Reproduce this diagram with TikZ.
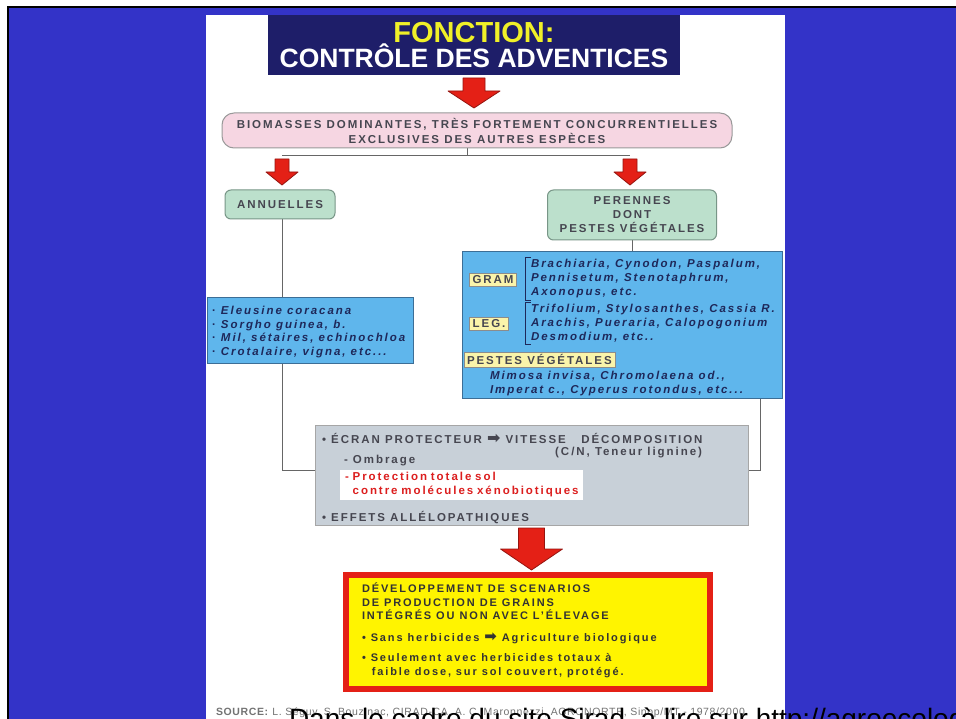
\documentclass[tikz,border=0pt]{standalone}
\usepackage{fontspec}
\setmainfont{Liberation Sans}
\newfontfamily\boxfont[LetterSpace=17]{Liberation Sans}
\newfontfamily\srcfont[LetterSpace=6]{Liberation Sans}
\newfontfamily\symfont{DejaVu Sans}
\usetikzlibrary{calc,positioning,backgrounds}

\definecolor{bgblue}{RGB}{51,51,200}
\definecolor{navy}{RGB}{30,30,105}
\definecolor{titleyellow}{RGB}{240,240,40}
\definecolor{pinkfill}{RGB}{246,214,226}
\definecolor{greenfill}{RGB}{188,224,204}
\definecolor{greenline}{RGB}{120,150,135}
\definecolor{bluefill}{RGB}{95,182,236}
\definecolor{blueline}{RGB}{60,110,150}
\definecolor{grayfill}{RGB}{200,208,216}
\definecolor{tagfill}{RGB}{250,244,170}
\definecolor{arrowred}{RGB}{228,32,22}
\definecolor{arrowdark}{RGB}{150,20,15}
\definecolor{yieldyellow}{RGB}{255,244,0}
\definecolor{inkgray}{RGB}{70,70,80}
\definecolor{navyink}{RGB}{30,40,90}
\definecolor{protred}{RGB}{220,30,30}

\begin{document}
\begin{tikzpicture}[x=1pt,y=-1pt,
  every node/.style={inner sep=0pt,outer sep=0pt},
  txt/.style={font=\boxfont\bfseries\fontsize{11.5}{14}\selectfont,text=inkgray,align=left},
  link/.style={draw=black!60,line width=1pt},
  bracket/.style={draw=navyink,line width=0.7pt},
  pinkbox/.style={draw=black!40,fill=pinkfill,line width=1pt,rounded corners=12pt},
  greenbox/.style={draw=greenline,fill=greenfill,line width=1pt,rounded corners=6pt},
  bluebox/.style={draw=blueline,fill=bluefill,line width=1pt},
  tag/.style={draw=black!45,fill=tagfill,inner xsep=3pt,inner ysep=2.5pt},
  redarrow/.style={fill=arrowred,draw=arrowdark,line width=0.8pt,line join=round}]

\useasboundingbox (0,0) rectangle (956,719);
\clip (0,0) rectangle (956,719);

% title
\node[fill=navy,minimum width=412pt,minimum height=60pt,text=white,align=center,
  font=\fontsize{26.5}{24}\bfseries\selectfont] (title) at (474,45)
  {\textcolor{titleyellow}{\fontsize{29}{24}\selectfont FONCTION:}\\CONTRÔLE DES ADVENTICES};

% boxes
\node[pinkbox,txt,align=center,minimum width=510pt,minimum height=35pt,
  font=\boxfont\bfseries\fontsize{11.5}{15}\selectfont] (biom) at (477,130.5)
  {BIOMASSES DOMINANTES, TRÈS FORTEMENT CONCURRENTIELLES\\EXCLUSIVES DES AUTRES ESPÈCES};
\node[greenbox,txt,minimum width=110pt,minimum height=29pt] (annu) at (280,204.5) {ANNUELLES};
\node[greenbox,txt,align=center,minimum width=169pt,minimum height=50pt] (peren) at (632,215)
  {PERENNES\\DONT\\PESTES VÉGÉTALES};

% annual species
\node[bluebox,minimum width=206pt,minimum height=65pt] (annusp) at (310,330.5) {};
\node[txt,anchor=west,text=navyink,font=\boxfont\bfseries\fontsize{11.5}{13.5}\selectfont] (annulist) at (212,332)
  {· \textit{Eleusine coracana}\\· \textit{Sorgho guinea, b.}\\· \textit{Mil, sétaires, echinochloa}\\· \textit{Crotalaire, vigna, etc...}};

% perennial species
\node[bluebox,minimum width=320pt,minimum height=146pt] (perensp) at (622,325) {};
\node[tag,txt] (gram) at (493,280) {GRAM};
\node[txt,anchor=west,text=navyink] (gramlist) at (531,279)
  {\textit{Brachiaria, Cynodon, Paspalum,}\\\textit{Pennisetum, Stenotaphrum,}\\\textit{Axonopus, etc.}};
\node[tag,txt] (leg) at (489,324) {LEG.};
\node[txt,anchor=west,text=navyink] (leglist) at (531,323)
  {\textit{Trifolium, Stylosanthes, Cassia R.}\\\textit{Arachis, Pueraria, Calopogonium}\\\textit{Desmodium, etc..}};
\foreach \n in {gramlist,leglist}
  \draw[bracket] ([shift={(0,-2)}]\n.north west) -- ([shift={(-6,-2)}]\n.north west)
    -- ([shift={(-6,2)}]\n.south west) -- ([shift={(0,2)}]\n.south west);
\node[tag,txt,anchor=west] (pestes) at (464,359.5) {PESTES VÉGÉTALES};
\node[txt,anchor=west,text=navyink] (pesteslist) at (490,384)
  {\textit{Mimosa invisa, Chromolaena od.,}\\\textit{Imperat c., Cyperus rotondus, etc...}};

% protective cover
\node[fill=grayfill,draw=black!35,line width=1pt,minimum width=433pt,minimum height=100pt] (cover) at (531.5,475) {};
\node[txt,anchor=west] (ecran) at (322,438)
  {• ÉCRAN PROTECTEUR {\symfont\fontsize{16}{14}\selectfont ➡} VITESSE~~~DÉCOMPOSITION};
\node[txt,anchor=east] (cn) at (702,453) {(C/N, Teneur lignine)};
\node[txt,anchor=west] (ombr) at (344,461) {- Ombrage};
\node[fill=white,txt,text=protred,anchor=north west,inner xsep=5pt,inner ysep=2pt,
  text width=233pt,minimum height=30pt] (prot) at (340,470)
  {- Protection totale sol\\\ \ contre molécules xénobiotiques};
\node[txt,anchor=west] (allelo) at (322,518) {• EFFETS ALLÉLOPATHIQUES};

% scenarios
\node[draw=arrowred,line width=6pt,fill=yieldyellow,minimum width=364pt,minimum height=114pt] (yield) at (528,632) {};
\node[txt,anchor=north west,text=black!80,font=\boxfont\bfseries\fontsize{11}{13.5}\selectfont] (scen) at (362,583)
  {DÉVELOPPEMENT DE SCENARIOS\\DE PRODUCTION DE GRAINS\\INTÉGRÉS OU NON AVEC L’ÉLEVAGE};
\node[txt,anchor=west,text=black!80,font=\boxfont\bfseries\fontsize{11}{14}\selectfont] (sans) at (362,638)
  {• Sans herbicides {\symfont\fontsize{15}{14}\selectfont ➡} Agriculture biologique};
\node[txt,anchor=north west,text=black!80,font=\boxfont\bfseries\fontsize{11}{14}\selectfont] (seul) at (362,653)
  {• Seulement avec herbicides totaux à\\\ \ faible dose, sur sol couvert, protégé.};

% source line
\node[anchor=west,font=\srcfont\fontsize{10.5}{11}\selectfont,text=black!55] (src) at (216,713)
  {\textbf{SOURCE:} L. Séguy, S. Bouzinac, CIRAD-CA, A. C. Maronnezzi, AGRONORTE, Sinop/MT - 1978/2000};
\node[anchor=base west,font=\fontsize{28}{28}\selectfont] (note) at (289,728)
  {Dans le cadre du site Sirad, à lire sur http://agroecologie.cirad.fr};

% splitting points
\coordinate (stem) at (467,156);
\coordinate (lsplit) at (282,156);
\coordinate (rsplit) at (630,156);
\coordinate (ljoin) at (282,470);
\coordinate (rjoin) at (760,470);

\begin{scope}[on background layer]
% frame and panel
\fill[black] (7,6) rectangle (956,719);
\fill[bgblue] (9,8) rectangle (956,719);
\fill[white] (206,15) rectangle (785,719);
% connectors
\draw[link] (biom.south -| stem) -- (stem);
\draw[link] (lsplit) -- (rsplit);
\draw[link] (lsplit |- annu.south) -- (ljoin) -- (ljoin -| cover.west);
\draw[link] (peren.south) -- (peren.south |- perensp.north);
\draw[link] (rjoin |- perensp.south) -- (rjoin) -- (rjoin -| cover.east);
\end{scope}

% block arrows
\foreach \a/\b/\hw/\sw/\hh in {title.south/biom.north/26/11/17, lsplit/annu.north/16/7/13,
  rsplit/peren.north/16/7/13, cover.south/yield.north/31/13/21}
  \draw[redarrow] let \p1=(\a), \p2=(\b), \p3=(\a |- \b) in
    (\x3-\sw,\y1-3) -- (\x3+\sw,\y1-3) -- (\x3+\sw,\y2+5+\hh) -- (\x3+\hw,\y2+5+\hh)
    -- (\x3,\y2+5) -- (\x3-\hw,\y2+5+\hh) -- (\x3-\sw,\y2+5+\hh) -- cycle;
\end{tikzpicture}
\end{document}
